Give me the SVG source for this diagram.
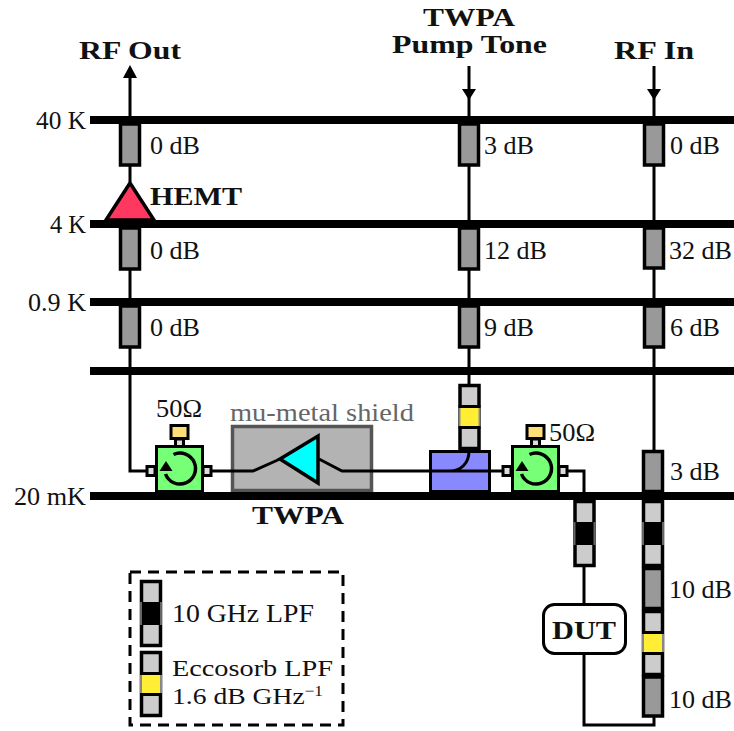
<svg xmlns="http://www.w3.org/2000/svg" width="734" height="731" viewBox="0 0 734 731">
<style>
text{font-family:"Liberation Serif","DejaVu Serif",serif;font-size:26px;fill:#111}
.b{font-weight:bold}
.wire{fill:none;stroke:#000;stroke-width:3}
.bar{fill:#000}
.att{fill:#999;stroke:#000;stroke-width:3.5}
.seg{fill:#ccc;stroke:#000;stroke-width:3.5}
.port{fill:#ddd;stroke:#000;stroke-width:3}
.circ{fill:#77ff77;stroke:#000;stroke-width:3}
.load{fill:#ffdd77;stroke:#000;stroke-width:3}
.rot{fill:none;stroke:#000;stroke-width:3.500}
.small{font-size:24px}
</style>
<defs>
<g id="lpf"><rect class="seg" x="-9.500" y="1.500" width="19" height="64"/><rect x="-11" y="22" width="22" height="23" fill="#666"/><rect x="-9" y="22" width="18" height="23" fill="#000"/></g>
<g id="ecco"><rect class="seg" x="-9.500" y="1.500" width="19" height="63"/><rect x="-11" y="23" width="22" height="20" fill="#888"/><rect x="-9" y="23" width="18" height="20" fill="#ffee33"/><rect x="-11" y="21" width="22" height="3" fill="#000"/><rect x="-11" y="42" width="22" height="3" fill="#000"/></g>
<g id="circulator"><rect class="port" x="-32.500" y="-4.500" width="8" height="9"/><rect class="port" x="23.500" y="-4.500" width="8" height="9"/><rect class="port" x="-4" y="-32" width="8" height="8"/><rect class="load" x="-8.500" y="-45.500" width="17" height="13"/><rect class="circ" x="-23" y="-24.500" width="46" height="45"/><path class="rot" d="M-6-16.500A15.500 15.500 0 1 1-14 3"/><path d="M-20 0-7 0-13.500-10Z" fill="#000"/></g>
</defs>
<g id="shield"><rect x="232.500" y="426.500" width="139" height="64" fill="#b3b3b3" stroke="#555" stroke-width="3.500"/><text x="230" y="421" textLength="184" lengthAdjust="spacingAndGlyphs" style="fill:#666">mu-metal shield</text></g>
<g id="stages">
<rect class="bar" x="90" y="116" width="644" height="8"/>
<rect class="bar" x="90" y="220" width="644" height="8"/>
<rect class="bar" x="90" y="298" width="644" height="8"/>
<rect class="bar" x="90" y="367" width="644" height="8"/>
<rect class="bar" x="90" y="492" width="644" height="8"/>
</g>
<g id="connectors">
<path class="wire" d="M130 78V182M130 224V230M130 270V306M130 348V471H148"/>
<path class="wire" d="M469 66V384"/>
<path class="wire" d="M654 66V451"/>
<path class="wire" d="M212 471H253L280 459M319 459L342 471H504"/>
<path class="wire" d="M568 471H584V500M584 567V604M584 654V725H654V716"/>
<path d="M130 65L137 78H123Z" fill="#000"/>
<path d="M469 100L462 89H476Z" fill="#000"/>
<path d="M654 100L647 89H661Z" fill="#000"/>
</g>
<g id="stage-labels">
<text x="36" y="129" textLength="50" lengthAdjust="spacingAndGlyphs">40 K</text>
<text x="50" y="233" textLength="36" lengthAdjust="spacingAndGlyphs">4 K</text>
<text x="28" y="311" textLength="58" lengthAdjust="spacingAndGlyphs">0.9 K</text>
<text x="14" y="505" textLength="72" lengthAdjust="spacingAndGlyphs">20 mK</text>
</g>
<g id="att-out-40k"><rect class="att" x="120.500" y="124" width="19" height="41"/><text x="150" y="154" textLength="50" lengthAdjust="spacingAndGlyphs">0 dB</text></g>
<g id="att-out-4k"><rect class="att" x="120.500" y="228" width="19" height="41"/><text x="150" y="259" textLength="50" lengthAdjust="spacingAndGlyphs">0 dB</text></g>
<g id="att-out-09k"><rect class="att" x="120.500" y="306" width="19" height="41"/><text x="150" y="336" textLength="50" lengthAdjust="spacingAndGlyphs">0 dB</text></g>
<g id="att-pump-40k"><rect class="att" x="459.500" y="124" width="19" height="41"/><text x="484" y="154" textLength="50" lengthAdjust="spacingAndGlyphs">3 dB</text></g>
<g id="att-pump-4k"><rect class="att" x="459.500" y="228" width="19" height="41"/><text x="484" y="259" textLength="63" lengthAdjust="spacingAndGlyphs">12 dB</text></g>
<g id="att-pump-09k"><rect class="att" x="459.500" y="306" width="19" height="41"/><text x="484" y="336" textLength="50" lengthAdjust="spacingAndGlyphs">9 dB</text></g>
<g id="att-in-40k"><rect class="att" x="644.500" y="124" width="19" height="41"/><text x="670" y="154" textLength="50" lengthAdjust="spacingAndGlyphs">0 dB</text></g>
<g id="att-in-4k"><rect class="att" x="644.500" y="228" width="19" height="40"/><text x="669" y="259" textLength="63" lengthAdjust="spacingAndGlyphs">32 dB</text></g>
<g id="att-in-09k"><rect class="att" x="644.500" y="306" width="19" height="41"/><text x="670" y="336" textLength="50" lengthAdjust="spacingAndGlyphs">6 dB</text></g>
<g id="att-in-20mk"><rect class="att" x="643.500" y="451.500" width="19" height="40"/><text x="670" y="480" textLength="50" lengthAdjust="spacingAndGlyphs">3 dB</text></g>
<g id="hemt"><path d="M130 183L154 220H106Z" fill="#ff3860" stroke="#000" stroke-width="3.500"/><text class="b" x="150" y="205" textLength="92" lengthAdjust="spacingAndGlyphs">HEMT</text></g>
<g id="circulator-left"><use href="#circulator" x="179.500" y="471"/><text x="156" y="417" textLength="46" lengthAdjust="spacingAndGlyphs">50Ω</text></g>
<g id="twpa"><path d="M280 459L318 436V483Z" fill="#00ffff" stroke="#000" stroke-width="3.500"/><text class="b" x="252" y="524" textLength="92" lengthAdjust="spacingAndGlyphs">TWPA</text></g>
<g id="ecco-pump"><use href="#ecco" x="469.500" y="384"/></g>
<g id="coupler"><rect x="430.500" y="451.500" width="59" height="40" fill="#8888ff" stroke="#000" stroke-width="3"/><path class="wire" d="M431 471H489M450 471C461 471 469 463 469 451"/></g>
<g id="circulator-right"><use href="#circulator" x="535.500" y="471"/><text x="549" y="441" textLength="46" lengthAdjust="spacingAndGlyphs">50Ω</text></g>
<g id="lpf-dut"><use href="#lpf" x="584.500" y="500"/></g>
<g id="lpf-in"><use href="#lpf" x="653" y="500"/></g>
<g id="att-in-10a"><rect class="att" x="643.500" y="568.500" width="19" height="40"/><text x="669" y="598" textLength="63" lengthAdjust="spacingAndGlyphs">10 dB</text></g>
<g id="ecco-in"><use href="#ecco" x="653" y="610"/></g>
<g id="att-in-10b"><rect class="att" x="643.500" y="677" width="19" height="39"/><text x="669" y="708" textLength="63" lengthAdjust="spacingAndGlyphs">10 dB</text></g>
<g id="dut"><rect x="543.500" y="604.500" width="82" height="49" rx="11" fill="#fff" stroke="#000" stroke-width="3"/><text class="b" x="552" y="639" textLength="64" lengthAdjust="spacingAndGlyphs">DUT</text></g>
<g id="label-rf-out"><text class="b" x="79" y="59" textLength="102" lengthAdjust="spacingAndGlyphs">RF Out</text></g>
<g id="label-pump"><text class="b" x="423" y="26" textLength="92" lengthAdjust="spacingAndGlyphs">TWPA</text><text class="b" x="392" y="53" textLength="155" lengthAdjust="spacingAndGlyphs">Pump Tone</text></g>
<g id="label-rf-in"><text class="b" x="614" y="59" textLength="80" lengthAdjust="spacingAndGlyphs">RF In</text></g>
<g id="legend"><rect x="130" y="572" width="213" height="153" fill="none" stroke="#000" stroke-width="3" stroke-dasharray="11 7"/>
<use href="#lpf" x="151" y="580"/><text x="172" y="622" textLength="142" lengthAdjust="spacingAndGlyphs">10 GHz LPF</text>
<use href="#ecco" x="151" y="651"/><text class="small" x="172" y="676" textLength="161" lengthAdjust="spacingAndGlyphs">Eccosorb LPF</text>
<text class="small" x="172" y="704" textLength="151" lengthAdjust="spacingAndGlyphs">1.6 dB GHz<tspan dy="-8" style="font-size:15px">−1</tspan></text></g>
</svg>
